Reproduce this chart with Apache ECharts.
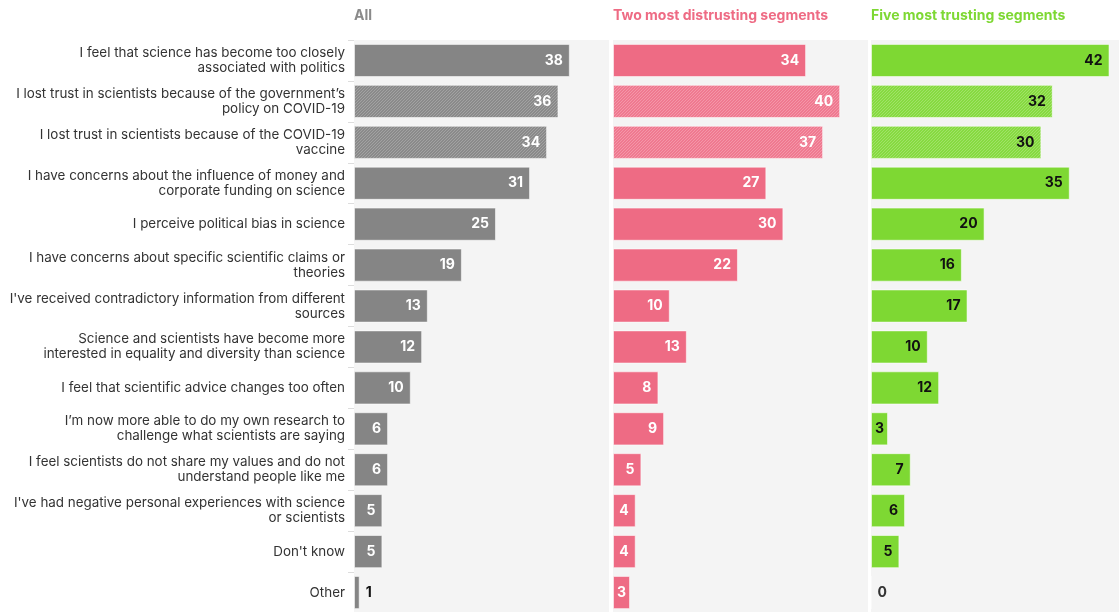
<!DOCTYPE html>
<html>
<head>
<meta charset="utf-8">
<script src="https://cdn.jsdelivr.net/npm/echarts@6/dist/echarts.min.js"></script>
<style>
  html, body { margin: 0; padding: 0; background: #ffffff; overflow: hidden; }
  /* the last panel runs off the right edge, so the canvas is a little wider than the window */
  #chart { width: 1130px; height: 620px; }
</style>
</head>
<body>
<div id="chart"></div>
<script>
// Reasons given for losing trust in science (% of respondents)
const categories = [
  "I feel that science has become too closely\nassociated with politics",
  "I lost trust in scientists because of the government\u2019s\npolicy on COVID-19",
  "I lost trust in scientists because of the COVID-19\nvaccine",
  "I have concerns about the influence of money and\ncorporate funding on science",
  "I perceive political bias in science",
  "I have concerns about specific scientific claims or\ntheories",
  "I've received contradictory information from different\nsources",
  "Science and scientists have become more\ninterested in equality and diversity than science",
  "I feel that scientific advice changes too often",
  "I\u2019m now more able to do my own research to\nchallenge what scientists are saying",
  "I feel scientists do not share my values and do not\nunderstand people like me",
  "I've had negative personal experiences with science\nor scientists",
  "Don't know",
  "Other"
];
const panelTitles = ["All", "Two most distrusting segments", "Five most trusting segments"];
const allValues         = [38, 36, 34, 31, 25, 19, 13, 12, 10, 6, 6, 5, 5, 1];
const distrustingValues = [34, 40, 37, 27, 30, 22, 10, 13, 8, 9, 5, 4, 4, 3];
const trustingValues    = [42, 32, 30, 35, 20, 16, 17, 10, 12, 3, 7, 6, 5, 0];
// COVID-19 related answers are drawn hatched
const hatchedRows = [1, 2];

const FONT = 'Inter, "Noto Sans", sans-serif';

// Fine diagonal stripe fill for the hatched bars
function stripes(base, line) {
  const c = document.createElement('canvas');
  c.width = 3; c.height = 3;
  const g = c.getContext('2d');
  g.fillStyle = base;
  g.fillRect(0, 0, 3, 3);
  g.fillStyle = line;
  // one-pixel "/" diagonal that tiles seamlessly
  g.fillRect(2, 0, 1, 1);
  g.fillRect(1, 1, 1, 1);
  g.fillRect(0, 2, 1, 1);
  return { image: c, repeat: 'repeat' };
}

const panels = [
  { values: allValues, color: '#858585', hatch: stripes('#8a8a8a', '#a2a2a2'), title: '#8a8a8a', labelColor: '#ffffff' },
  { values: distrustingValues, color: '#ee6b84', hatch: stripes('#ef7990', '#f496a8'), title: '#ee6b84', labelColor: '#ffffff' },
  { values: trustingValues, color: '#7ed833', hatch: stripes('#86da40', '#a0e267'), title: '#7ed833', labelColor: '#111111' }
];

const lefts = [354, 613, 871];
const panelWidth = 255;
const axisMax = 44.9;

const option = {
  animation: false,
  title: panels.map((p, i) => ({
    text: panelTitles[i],
    left: lefts[i],
    top: 9,
    padding: 0,
    textStyle: { fontFamily: FONT, fontSize: 14, fontWeight: 'bold', color: p.title }
  })),
  grid: lefts.map(l => ({
    left: l, width: panelWidth, top: 40, height: 573,
    show: true, backgroundColor: '#f4f4f4', borderWidth: 0
  })),
  xAxis: lefts.map((l, i) => ({
    gridIndex: i, type: 'value', min: 0, max: axisMax,
    show: false
  })),
  yAxis: lefts.map((l, i) => ({
    gridIndex: i, type: 'category', data: categories, inverse: true,
    axisLine: { show: false },
    axisTick: { show: i === 0, length: 6, lineStyle: { color: '#dddddd' } },
    axisLabel: {
      show: i === 0, margin: 9, fontFamily: FONT, fontSize: 13.4,
      color: '#333333', lineHeight: 15, align: 'right'
    }
  })),
  series: panels.map((p, i) => ({
    type: 'bar',
    xAxisIndex: i, yAxisIndex: i,
    barCategoryGap: '19%',
    data: p.values.map((v, r) => {
      const item = {
        value: v,
        itemStyle: {
          color: hatchedRows.includes(r) ? p.hatch : p.color,
          borderColor: 'rgba(255,255,255,0.55)', borderWidth: 1
        }
      };
      if (v < 2) {
        item.label = { position: 'right', distance: 6, color: v === 0 ? '#333333' : '#111111' };
      } else if (v <= 3) {
        item.label = { position: 'inside' };
      }
      return item;
    }),
    label: {
      show: true, position: 'insideRight', distance: 7,
      fontFamily: FONT, fontSize: 14, fontWeight: 'bold', color: p.labelColor
    }
  }))
};

echarts.init(document.getElementById('chart')).setOption(option);
</script>
</body>
</html>
